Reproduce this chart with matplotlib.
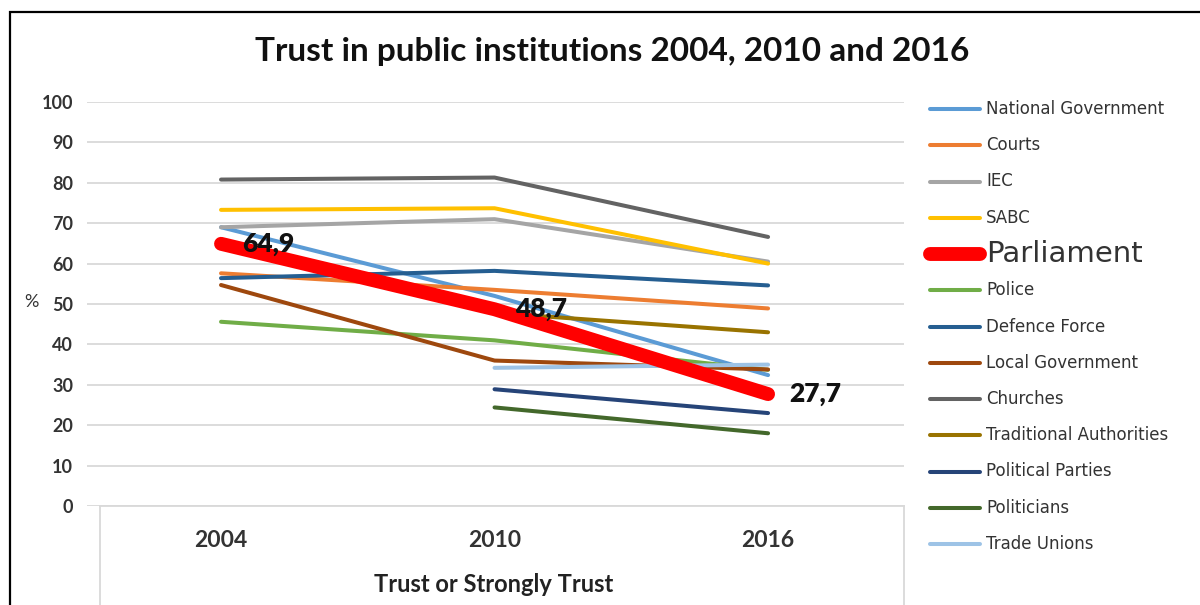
import numpy as np
import matplotlib
matplotlib.use("Agg")
import matplotlib.pyplot as plt
from matplotlib.lines import Line2D
from matplotlib.patches import Rectangle

# -------------------------------
# Data
# -------------------------------
years = ["2004", "2010", "2016"]

institutions = [
    "National Government", "Courts", "IEC", "SABC", "Parliament", "Police",
    "Defence Force", "Local Government", "Churches", "Traditional Authorities",
    "Political Parties", "Politicians", "Trade Unions",
]

national_government = [69.0, 52.0, 32.4]
courts = [57.6, 53.5, 48.9]
iec = [69.0, 71.0, 60.5]
sabc = [73.3, 73.7, 60.0]
parliament = [64.9, 48.7, 27.7]
police = [45.6, 41.0, 33.7]
defence_force = [56.4, 58.2, 54.6]
local_government = [54.7, 36.0, 33.8]
churches = [80.8, 81.3, 66.6]
traditional_authorities = [np.nan, 47.8, 43.0]
political_parties = [np.nan, 28.9, 23.0]
politicians = [np.nan, 24.4, 18.0]
trade_unions = [np.nan, 34.2, 35.0]

series = [
    national_government, courts, iec, sabc, parliament, police, defence_force,
    local_government, churches, traditional_authorities, political_parties,
    politicians, trade_unions,
]

colors = [
    "#5b9bd5", "#ed7d31", "#a5a5a5", "#ffc000", "#ff0000", "#70ad47",
    "#255e91", "#9e480e", "#636363", "#997300", "#264478", "#43682b",
    "#9dc3e6",
]

# -------------------------------
# Figure
# -------------------------------
fig = plt.figure(figsize=(12, 6.05), dpi=100)
W, H = 1200, 605

def fx(px):
    return px / W

def fy(py):
    return 1 - py / H

ax = fig.add_axes([fx(87), fy(506), fx(904) - fx(87), fy(102) - fy(506)])

x = np.arange(len(years))
# draw order: Parliament last so it sits on top
order = [i for i in range(len(institutions)) if institutions[i] != "Parliament"] + [4]
for i in order:
    name = institutions[i]
    lw = 10 if name == "Parliament" else 2.9
    ax.plot(x, series[i], color=colors[i], lw=lw, solid_capstyle="round",
            solid_joinstyle="round", zorder=3 if name != "Parliament" else 4)

# data labels for Parliament
for xi, v in zip(x, parliament):
    ax.annotate(f"{v:.1f}".replace(".", ","), (xi, v), xytext=(15, 0),
                textcoords="offset points", ha="left", va="center",
                fontsize=19, fontweight="heavy", family="Lato", color="#111111",
                zorder=5)

ax.set_xlim(-0.49, 2.497)
ax.set_ylim(0, 100)
ax.set_yticks(range(0, 101, 10))
ax.set_xticks(x)
ax.set_xticklabels(years)
ax.grid(axis="y", color="#d9d9d9", lw=1.3)
ax.set_axisbelow(True)
for s in ax.spines.values():
    s.set_visible(False)
ax.tick_params(length=0)
ax.tick_params(axis="y", pad=10, labelsize=13, labelcolor="#333333")
ax.tick_params(axis="x", pad=17, labelsize=16.5, labelcolor="#333333")
for lab in ax.get_yticklabels() + ax.get_xticklabels():
    lab.set_family("Lato")
    lab.set_fontweight("bold")

# category box below the axis
fig.add_artist(Line2D([fx(100), fx(904)], [fy(506), fy(506)], color="#d9d9d9", lw=1.3))
fig.add_artist(Line2D([fx(100), fx(100)], [fy(506), fy(610)], color="#d9d9d9", lw=1.3))
fig.add_artist(Line2D([fx(904), fx(904)], [fy(506), fy(610)], color="#d9d9d9", lw=1.3))

# titles
fig.text(fx(612), fy(52), "Trust in public institutions 2004, 2010 and 2016",
         ha="center", va="center", fontsize=24, fontweight="bold",
         family="Lato", color="#111111")
fig.text(fx(494), fy(584), "Trust or Strongly Trust", ha="center", va="center",
         fontsize=17, fontweight="bold", family="Lato", color="#222222")
fig.text(fx(31), fy(302), "%", ha="center", va="center", fontsize=13,
         family="Lato", color="#333333")

# legend drawn by hand so every row keeps the same spacing
for k, (name, col) in enumerate(zip(institutions, colors)):
    ly = 109 + k * 36.25
    big = name == "Parliament"
    fig.add_artist(Line2D([fx(930), fx(980)], [fy(ly), fy(ly)], color=col,
                          lw=10 if big else 2.9, solid_capstyle="round"))
    fig.text(fx(986), fy(ly), name, ha="left", va="center",
             fontsize=21 if big else 12, family="DejaVu Sans", color="#333333")

# outer frame (runs off the right and bottom edges)
fig.add_artist(Rectangle((fx(10), fy(700)), 2, fy(12) - fy(700), fill=False,
                         edgecolor="black", lw=1.6, transform=fig.transFigure))

fig.savefig("out.png", dpi=100)
